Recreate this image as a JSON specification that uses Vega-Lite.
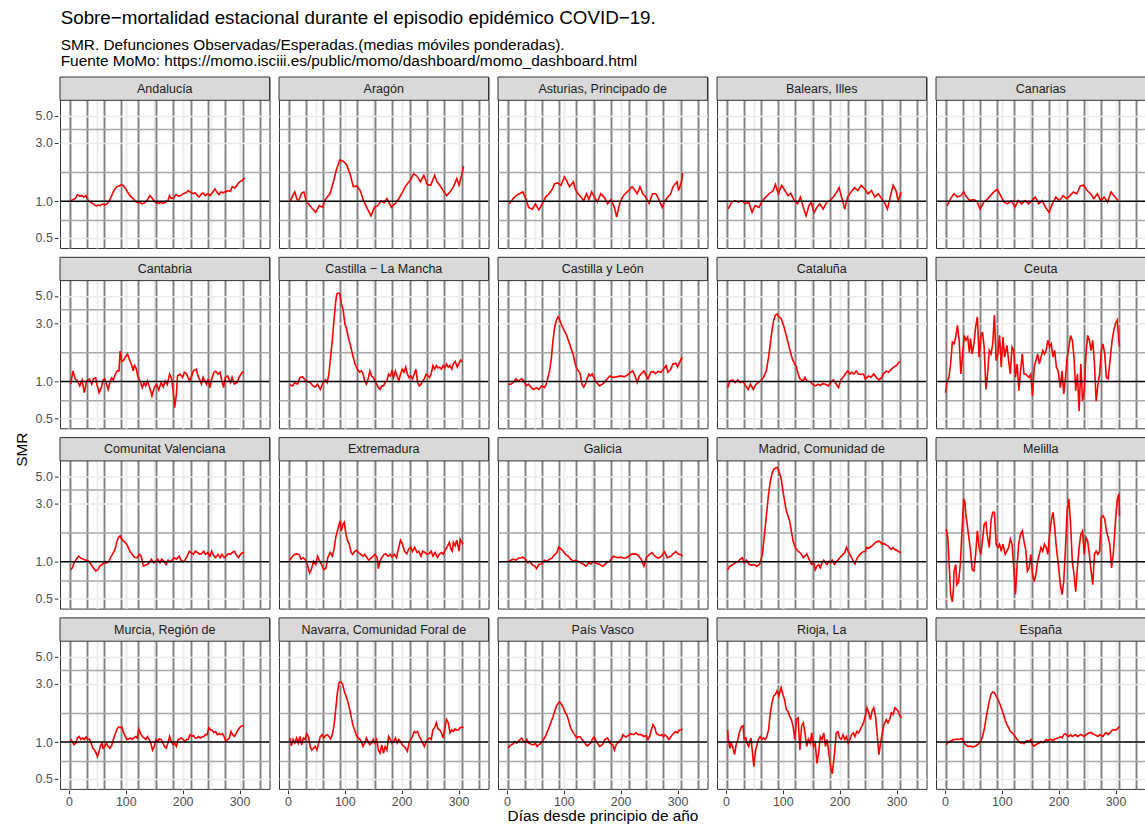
{
"$schema": "https://vega.github.io/schema/vega-lite/v6.json",
"background": "white",
"padding": {"left": 14, "top": 8, "right": 0, "bottom": 0},
"title": {"text": "Sobre−mortalidad estacional durante el episodio epidémico COVID−19.", "subtitle": ["SMR. Defunciones Observadas/Esperadas.(medias móviles ponderadas).", "Fuente MoMo: https://momo.isciii.es/public/momo/dashboard/momo_dashboard.html"], "anchor": "start", "dx": 46, "font": "Liberation Sans", "fontSize": 18.8, "fontWeight": "normal", "color": "black", "subtitleFont": "Liberation Sans", "subtitleFontSize": 15.4, "subtitleColor": "black", "subtitlePadding": 10, "subtitleLineHeight": 16, "offset": 6},
"datasets": {
"names": [{"c":"AN","n":"Andalucía"},{"c":"AR","n":"Aragón"},{"c":"AS","n":"Asturias, Principado de"},{"c":"IB","n":"Balears, Illes"},{"c":"CN","n":"Canarias"},{"c":"CB","n":"Cantabria"},{"c":"CM","n":"Castilla − La Mancha"},{"c":"CL","n":"Castilla y León"},{"c":"CT","n":"Cataluña"},{"c":"CE","n":"Ceuta"},{"c":"VC","n":"Comunitat Valenciana"},{"c":"EX","n":"Extremadura"},{"c":"GA","n":"Galicia"},{"c":"MD","n":"Madrid, Comunidad de"},{"c":"ML","n":"Melilla"},{"c":"MC","n":"Murcia, Región de"},{"c":"NC","n":"Navarra, Comunidad Foral de"},{"c":"PV","n":"País Vasco"},{"c":"RI","n":"Rioja, La"},{"c":"ES","n":"España"}],
"smr": [
{"r":"AN","d":2,"v":1.0},{"r":"AN","d":7,"v":1.03},{"r":"AN","d":11,"v":1.05},{"r":"AN","d":15,"v":1.13},{"r":"AN","d":19,"v":1.10},{"r":"AN","d":23,"v":1.11},{"r":"AN","d":26,"v":1.08},{"r":"AN","d":30,"v":1.11},{"r":"AN","d":34,"v":1.01},{"r":"AN","d":38,"v":0.98},{"r":"AN","d":43,"v":0.95},{"r":"AN","d":48,"v":0.91},{"r":"AN","d":52,"v":0.93},{"r":"AN","d":55,"v":0.92},{"r":"AN","d":59,"v":0.95},{"r":"AN","d":63,"v":0.93},{"r":"AN","d":67,"v":0.95},{"r":"AN","d":71,"v":1.01},{"r":"AN","d":75,"v":1.11},{"r":"AN","d":79,"v":1.22},{"r":"AN","d":84,"v":1.31},{"r":"AN","d":88,"v":1.33},{"r":"AN","d":92,"v":1.36},{"r":"AN","d":95,"v":1.35},{"r":"AN","d":100,"v":1.26},{"r":"AN","d":104,"v":1.17},{"r":"AN","d":108,"v":1.10},{"r":"AN","d":113,"v":1.05},{"r":"AN","d":117,"v":0.99},{"r":"AN","d":122,"v":0.97},{"r":"AN","d":124,"v":0.98},{"r":"AN","d":129,"v":0.95},{"r":"AN","d":133,"v":0.97},{"r":"AN","d":137,"v":1.01},{"r":"AN","d":142,"v":1.11},{"r":"AN","d":145,"v":1.08},{"r":"AN","d":148,"v":1.03},{"r":"AN","d":151,"v":0.99},{"r":"AN","d":153,"v":0.97},{"r":"AN","d":158,"v":0.96},{"r":"AN","d":162,"v":0.98},{"r":"AN","d":165,"v":0.96},{"r":"AN","d":170,"v":0.98},{"r":"AN","d":174,"v":1.01},{"r":"AN","d":177,"v":1.11},{"r":"AN","d":180,"v":1.05},{"r":"AN","d":184,"v":1.06},{"r":"AN","d":188,"v":1.13},{"r":"AN","d":193,"v":1.10},{"r":"AN","d":197,"v":1.11},{"r":"AN","d":201,"v":1.15},{"r":"AN","d":206,"v":1.17},{"r":"AN","d":210,"v":1.22},{"r":"AN","d":215,"v":1.17},{"r":"AN","d":219,"v":1.15},{"r":"AN","d":222,"v":1.17},{"r":"AN","d":226,"v":1.11},{"r":"AN","d":229,"v":1.08},{"r":"AN","d":232,"v":1.13},{"r":"AN","d":236,"v":1.17},{"r":"AN","d":240,"v":1.11},{"r":"AN","d":244,"v":1.15},{"r":"AN","d":248,"v":1.11},{"r":"AN","d":252,"v":1.17},{"r":"AN","d":257,"v":1.26},{"r":"AN","d":261,"v":1.17},{"r":"AN","d":264,"v":1.13},{"r":"AN","d":267,"v":1.19},{"r":"AN","d":271,"v":1.17},{"r":"AN","d":276,"v":1.20},{"r":"AN","d":280,"v":1.22},{"r":"AN","d":284,"v":1.20},{"r":"AN","d":287,"v":1.31},{"r":"AN","d":292,"v":1.28},{"r":"AN","d":296,"v":1.36},{"r":"AN","d":300,"v":1.44},{"r":"AN","d":305,"v":1.48},{"r":"AN","d":308,"v":1.53},{"r":"AN","d":309,"v":1.55},
{"r":"AR","d":4,"v":1.0},{"r":"AR","d":9,"v":1.12},{"r":"AR","d":12,"v":1.19},{"r":"AR","d":16,"v":1.03},{"r":"AR","d":19,"v":1.01},{"r":"AR","d":24,"v":1.16},{"r":"AR","d":28,"v":1.19},{"r":"AR","d":32,"v":1.0},{"r":"AR","d":36,"v":0.95},{"r":"AR","d":42,"v":0.88},{"r":"AR","d":49,"v":0.81},{"r":"AR","d":55,"v":0.92},{"r":"AR","d":61,"v":0.89},{"r":"AR","d":65,"v":1.02},{"r":"AR","d":69,"v":1.08},{"r":"AR","d":74,"v":1.15},{"r":"AR","d":79,"v":1.39},{"r":"AR","d":85,"v":1.79},{"r":"AR","d":91,"v":2.17},{"r":"AR","d":97,"v":2.12},{"r":"AR","d":103,"v":2.0},{"r":"AR","d":109,"v":1.68},{"r":"AR","d":115,"v":1.31},{"r":"AR","d":121,"v":1.33},{"r":"AR","d":127,"v":1.22},{"r":"AR","d":133,"v":1.01},{"r":"AR","d":140,"v":0.86},{"r":"AR","d":146,"v":0.76},{"r":"AR","d":152,"v":0.89},{"r":"AR","d":158,"v":0.92},{"r":"AR","d":164,"v":1.01},{"r":"AR","d":169,"v":0.97},{"r":"AR","d":174,"v":1.05},{"r":"AR","d":182,"v":0.89},{"r":"AR","d":188,"v":0.95},{"r":"AR","d":194,"v":1.03},{"r":"AR","d":200,"v":1.15},{"r":"AR","d":206,"v":1.31},{"r":"AR","d":215,"v":1.48},{"r":"AR","d":221,"v":1.68},{"r":"AR","d":227,"v":1.60},{"r":"AR","d":233,"v":1.44},{"r":"AR","d":239,"v":1.63},{"r":"AR","d":245,"v":1.37},{"r":"AR","d":251,"v":1.35},{"r":"AR","d":258,"v":1.63},{"r":"AR","d":262,"v":1.45},{"r":"AR","d":267,"v":1.35},{"r":"AR","d":273,"v":1.22},{"r":"AR","d":279,"v":1.11},{"r":"AR","d":285,"v":1.19},{"r":"AR","d":291,"v":1.31},{"r":"AR","d":297,"v":1.53},{"r":"AR","d":301,"v":1.35},{"r":"AR","d":306,"v":1.68},{"r":"AR","d":309,"v":1.93},
{"r":"AS","d":4,"v":0.95},{"r":"AS","d":11,"v":1.05},{"r":"AS","d":16,"v":1.11},{"r":"AS","d":22,"v":1.15},{"r":"AS","d":28,"v":1.19},{"r":"AS","d":33,"v":1.05},{"r":"AS","d":38,"v":0.89},{"r":"AS","d":45,"v":0.86},{"r":"AS","d":50,"v":0.95},{"r":"AS","d":56,"v":0.85},{"r":"AS","d":62,"v":0.95},{"r":"AS","d":68,"v":1.08},{"r":"AS","d":74,"v":1.15},{"r":"AS","d":80,"v":1.26},{"r":"AS","d":84,"v":1.39},{"r":"AS","d":89,"v":1.41},{"r":"AS","d":95,"v":1.35},{"r":"AS","d":101,"v":1.58},{"r":"AS","d":106,"v":1.44},{"r":"AS","d":110,"v":1.31},{"r":"AS","d":117,"v":1.44},{"r":"AS","d":120,"v":1.26},{"r":"AS","d":125,"v":1.15},{"r":"AS","d":130,"v":1.08},{"r":"AS","d":135,"v":1.01},{"r":"AS","d":140,"v":1.15},{"r":"AS","d":144,"v":1.03},{"r":"AS","d":149,"v":1.19},{"r":"AS","d":154,"v":1.08},{"r":"AS","d":159,"v":0.98},{"r":"AS","d":165,"v":1.15},{"r":"AS","d":171,"v":1.08},{"r":"AS","d":177,"v":0.95},{"r":"AS","d":183,"v":1.03},{"r":"AS","d":189,"v":0.89},{"r":"AS","d":193,"v":0.74},{"r":"AS","d":198,"v":0.95},{"r":"AS","d":203,"v":1.08},{"r":"AS","d":208,"v":1.15},{"r":"AS","d":214,"v":1.22},{"r":"AS","d":220,"v":1.31},{"r":"AS","d":226,"v":1.21},{"r":"AS","d":229,"v":1.15},{"r":"AS","d":234,"v":1.31},{"r":"AS","d":239,"v":1.15},{"r":"AS","d":244,"v":1.08},{"r":"AS","d":250,"v":0.96},{"r":"AS","d":256,"v":1.15},{"r":"AS","d":262,"v":1.15},{"r":"AS","d":268,"v":1.01},{"r":"AS","d":273,"v":0.89},{"r":"AS","d":278,"v":1.01},{"r":"AS","d":283,"v":1.08},{"r":"AS","d":288,"v":1.15},{"r":"AS","d":292,"v":1.31},{"r":"AS","d":299,"v":1.44},{"r":"AS","d":302,"v":1.22},{"r":"AS","d":307,"v":1.44},{"r":"AS","d":309,"v":1.70},
{"r":"IB","d":4,"v":0.86},{"r":"IB","d":10,"v":0.98},{"r":"IB","d":16,"v":1.01},{"r":"IB","d":22,"v":0.98},{"r":"IB","d":28,"v":1.01},{"r":"IB","d":34,"v":0.95},{"r":"IB","d":40,"v":0.98},{"r":"IB","d":46,"v":0.81},{"r":"IB","d":51,"v":0.92},{"r":"IB","d":58,"v":0.89},{"r":"IB","d":64,"v":1.01},{"r":"IB","d":70,"v":1.08},{"r":"IB","d":76,"v":1.15},{"r":"IB","d":83,"v":1.22},{"r":"IB","d":87,"v":1.37},{"r":"IB","d":92,"v":1.15},{"r":"IB","d":98,"v":1.35},{"r":"IB","d":104,"v":1.22},{"r":"IB","d":109,"v":1.11},{"r":"IB","d":114,"v":1.16},{"r":"IB","d":120,"v":1.01},{"r":"IB","d":126,"v":0.95},{"r":"IB","d":131,"v":1.08},{"r":"IB","d":136,"v":0.89},{"r":"IB","d":141,"v":0.76},{"r":"IB","d":146,"v":0.92},{"r":"IB","d":150,"v":0.98},{"r":"IB","d":155,"v":0.81},{"r":"IB","d":160,"v":0.89},{"r":"IB","d":165,"v":0.95},{"r":"IB","d":171,"v":0.86},{"r":"IB","d":177,"v":0.98},{"r":"IB","d":183,"v":1.01},{"r":"IB","d":189,"v":1.08},{"r":"IB","d":195,"v":1.19},{"r":"IB","d":199,"v":1.29},{"r":"IB","d":204,"v":1.05},{"r":"IB","d":209,"v":0.86},{"r":"IB","d":214,"v":1.08},{"r":"IB","d":220,"v":1.19},{"r":"IB","d":226,"v":1.29},{"r":"IB","d":232,"v":1.22},{"r":"IB","d":238,"v":1.35},{"r":"IB","d":244,"v":1.26},{"r":"IB","d":250,"v":1.15},{"r":"IB","d":256,"v":1.22},{"r":"IB","d":262,"v":1.08},{"r":"IB","d":268,"v":1.15},{"r":"IB","d":274,"v":1.05},{"r":"IB","d":280,"v":0.95},{"r":"IB","d":284,"v":0.86},{"r":"IB","d":289,"v":1.08},{"r":"IB","d":294,"v":1.35},{"r":"IB","d":299,"v":1.22},{"r":"IB","d":303,"v":1.01},{"r":"IB","d":308,"v":1.19},
{"r":"CN","d":4,"v":0.92},{"r":"CN","d":10,"v":1.05},{"r":"CN","d":16,"v":1.15},{"r":"CN","d":22,"v":1.08},{"r":"CN","d":28,"v":1.11},{"r":"CN","d":33,"v":1.19},{"r":"CN","d":38,"v":1.08},{"r":"CN","d":44,"v":1.01},{"r":"CN","d":50,"v":1.03},{"r":"CN","d":56,"v":1.0},{"r":"CN","d":62,"v":0.86},{"r":"CN","d":68,"v":0.98},{"r":"CN","d":74,"v":1.03},{"r":"CN","d":80,"v":1.11},{"r":"CN","d":86,"v":1.19},{"r":"CN","d":92,"v":1.25},{"r":"CN","d":98,"v":1.11},{"r":"CN","d":104,"v":0.98},{"r":"CN","d":110,"v":0.95},{"r":"CN","d":117,"v":1.01},{"r":"CN","d":123,"v":0.89},{"r":"CN","d":129,"v":1.01},{"r":"CN","d":135,"v":0.95},{"r":"CN","d":141,"v":1.01},{"r":"CN","d":147,"v":0.95},{"r":"CN","d":153,"v":1.01},{"r":"CN","d":159,"v":1.08},{"r":"CN","d":165,"v":0.95},{"r":"CN","d":171,"v":1.01},{"r":"CN","d":177,"v":0.89},{"r":"CN","d":183,"v":0.81},{"r":"CN","d":189,"v":0.95},{"r":"CN","d":195,"v":1.08},{"r":"CN","d":201,"v":1.01},{"r":"CN","d":208,"v":1.11},{"r":"CN","d":214,"v":1.05},{"r":"CN","d":220,"v":1.11},{"r":"CN","d":226,"v":1.19},{"r":"CN","d":232,"v":1.15},{"r":"CN","d":238,"v":1.33},{"r":"CN","d":244,"v":1.35},{"r":"CN","d":250,"v":1.22},{"r":"CN","d":256,"v":1.15},{"r":"CN","d":262,"v":1.05},{"r":"CN","d":268,"v":1.15},{"r":"CN","d":274,"v":1.01},{"r":"CN","d":280,"v":1.08},{"r":"CN","d":286,"v":0.98},{"r":"CN","d":292,"v":1.19},{"r":"CN","d":299,"v":1.08},{"r":"CN","d":305,"v":1.01},
{"r":"CB","d":3,"v":0.95},{"r":"CB","d":7,"v":1.22},{"r":"CB","d":11,"v":1.05},{"r":"CB","d":15,"v":1.01},{"r":"CB","d":19,"v":0.92},{"r":"CB","d":23,"v":1.03},{"r":"CB","d":27,"v":0.81},{"r":"CB","d":31,"v":1.01},{"r":"CB","d":36,"v":1.05},{"r":"CB","d":40,"v":0.95},{"r":"CB","d":43,"v":1.05},{"r":"CB","d":47,"v":1.07},{"r":"CB","d":49,"v":0.95},{"r":"CB","d":53,"v":0.81},{"r":"CB","d":57,"v":0.89},{"r":"CB","d":60,"v":1.03},{"r":"CB","d":63,"v":1.05},{"r":"CB","d":66,"v":0.95},{"r":"CB","d":69,"v":0.86},{"r":"CB","d":72,"v":0.98},{"r":"CB","d":75,"v":1.07},{"r":"CB","d":78,"v":1.03},{"r":"CB","d":82,"v":1.16},{"r":"CB","d":85,"v":1.22},{"r":"CB","d":88,"v":1.22},{"r":"CB","d":90,"v":1.77},{"r":"CB","d":93,"v":1.46},{"r":"CB","d":96,"v":1.48},{"r":"CB","d":99,"v":1.58},{"r":"CB","d":103,"v":1.68},{"r":"CB","d":107,"v":1.48},{"r":"CB","d":110,"v":1.37},{"r":"CB","d":113,"v":1.22},{"r":"CB","d":115,"v":1.35},{"r":"CB","d":118,"v":1.29},{"r":"CB","d":121,"v":1.11},{"r":"CB","d":125,"v":1.01},{"r":"CB","d":129,"v":0.89},{"r":"CB","d":132,"v":0.98},{"r":"CB","d":135,"v":0.92},{"r":"CB","d":138,"v":1.01},{"r":"CB","d":143,"v":0.86},{"r":"CB","d":146,"v":0.76},{"r":"CB","d":150,"v":0.89},{"r":"CB","d":154,"v":0.95},{"r":"CB","d":158,"v":0.85},{"r":"CB","d":162,"v":0.98},{"r":"CB","d":166,"v":0.90},{"r":"CB","d":169,"v":1.01},{"r":"CB","d":173,"v":0.94},{"r":"CB","d":177,"v":1.15},{"r":"CB","d":180,"v":1.08},{"r":"CB","d":183,"v":0.86},{"r":"CB","d":186,"v":0.61},{"r":"CB","d":189,"v":0.79},{"r":"CB","d":191,"v":1.11},{"r":"CB","d":195,"v":1.15},{"r":"CB","d":200,"v":1.08},{"r":"CB","d":203,"v":1.19},{"r":"CB","d":207,"v":1.15},{"r":"CB","d":212,"v":1.01},{"r":"CB","d":215,"v":1.08},{"r":"CB","d":219,"v":1.22},{"r":"CB","d":224,"v":1.26},{"r":"CB","d":227,"v":1.11},{"r":"CB","d":230,"v":1.03},{"r":"CB","d":233,"v":0.95},{"r":"CB","d":236,"v":1.08},{"r":"CB","d":239,"v":1.01},{"r":"CB","d":242,"v":0.95},{"r":"CB","d":245,"v":1.05},{"r":"CB","d":248,"v":0.89},{"r":"CB","d":251,"v":1.05},{"r":"CB","d":255,"v":1.19},{"r":"CB","d":258,"v":1.21},{"r":"CB","d":262,"v":1.15},{"r":"CB","d":266,"v":1.19},{"r":"CB","d":269,"v":1.01},{"r":"CB","d":272,"v":0.89},{"r":"CB","d":275,"v":1.08},{"r":"CB","d":279,"v":1.11},{"r":"CB","d":284,"v":0.98},{"r":"CB","d":287,"v":1.08},{"r":"CB","d":291,"v":0.95},{"r":"CB","d":296,"v":0.98},{"r":"CB","d":299,"v":1.08},{"r":"CB","d":303,"v":1.15},{"r":"CB","d":306,"v":1.21},
{"r":"CM","d":3,"v":0.94},{"r":"CM","d":8,"v":0.92},{"r":"CM","d":12,"v":0.98},{"r":"CM","d":17,"v":0.95},{"r":"CM","d":21,"v":1.08},{"r":"CM","d":26,"v":1.09},{"r":"CM","d":30,"v":1.03},{"r":"CM","d":34,"v":1.0},{"r":"CM","d":39,"v":0.98},{"r":"CM","d":44,"v":0.92},{"r":"CM","d":48,"v":0.90},{"r":"CM","d":52,"v":0.95},{"r":"CM","d":57,"v":0.86},{"r":"CM","d":62,"v":0.98},{"r":"CM","d":66,"v":1.03},{"r":"CM","d":69,"v":0.98},{"r":"CM","d":72,"v":1.15},{"r":"CM","d":75,"v":1.58},{"r":"CM","d":78,"v":2.17},{"r":"CM","d":81,"v":3.17},{"r":"CM","d":84,"v":4.50},{"r":"CM","d":86,"v":5.20},{"r":"CM","d":88,"v":5.27},{"r":"CM","d":91,"v":5.27},{"r":"CM","d":94,"v":4.35},{"r":"CM","d":97,"v":3.84},{"r":"CM","d":100,"v":2.98},{"r":"CM","d":103,"v":2.71},{"r":"CM","d":106,"v":2.31},{"r":"CM","d":110,"v":1.97},{"r":"CM","d":114,"v":1.63},{"r":"CM","d":118,"v":1.39},{"r":"CM","d":122,"v":1.26},{"r":"CM","d":126,"v":1.19},{"r":"CM","d":129,"v":1.22},{"r":"CM","d":132,"v":1.16},{"r":"CM","d":135,"v":1.01},{"r":"CM","d":138,"v":0.95},{"r":"CM","d":141,"v":1.05},{"r":"CM","d":144,"v":1.22},{"r":"CM","d":147,"v":1.11},{"r":"CM","d":150,"v":1.08},{"r":"CM","d":153,"v":1.01},{"r":"CM","d":156,"v":0.95},{"r":"CM","d":159,"v":0.89},{"r":"CM","d":162,"v":0.86},{"r":"CM","d":165,"v":0.92},{"r":"CM","d":168,"v":0.92},{"r":"CM","d":171,"v":0.98},{"r":"CM","d":174,"v":1.01},{"r":"CM","d":177,"v":1.15},{"r":"CM","d":180,"v":1.11},{"r":"CM","d":183,"v":1.22},{"r":"CM","d":186,"v":1.08},{"r":"CM","d":189,"v":1.22},{"r":"CM","d":192,"v":1.11},{"r":"CM","d":195,"v":1.01},{"r":"CM","d":198,"v":1.15},{"r":"CM","d":201,"v":1.26},{"r":"CM","d":204,"v":1.19},{"r":"CM","d":207,"v":1.31},{"r":"CM","d":210,"v":1.15},{"r":"CM","d":213,"v":1.08},{"r":"CM","d":216,"v":1.11},{"r":"CM","d":219,"v":1.05},{"r":"CM","d":222,"v":1.15},{"r":"CM","d":225,"v":1.26},{"r":"CM","d":228,"v":0.98},{"r":"CM","d":231,"v":0.92},{"r":"CM","d":234,"v":0.95},{"r":"CM","d":237,"v":1.01},{"r":"CM","d":240,"v":1.05},{"r":"CM","d":243,"v":1.15},{"r":"CM","d":246,"v":1.11},{"r":"CM","d":249,"v":1.08},{"r":"CM","d":252,"v":1.16},{"r":"CM","d":255,"v":1.35},{"r":"CM","d":258,"v":1.26},{"r":"CM","d":261,"v":1.35},{"r":"CM","d":264,"v":1.29},{"r":"CM","d":267,"v":1.31},{"r":"CM","d":270,"v":1.26},{"r":"CM","d":273,"v":1.35},{"r":"CM","d":276,"v":1.29},{"r":"CM","d":279,"v":1.39},{"r":"CM","d":282,"v":1.31},{"r":"CM","d":285,"v":1.35},{"r":"CM","d":288,"v":1.26},{"r":"CM","d":291,"v":1.39},{"r":"CM","d":294,"v":1.46},{"r":"CM","d":298,"v":1.31},{"r":"CM","d":301,"v":1.41},{"r":"CM","d":304,"v":1.50},{"r":"CM","d":306,"v":1.44},
{"r":"CL","d":2,"v":0.95},{"r":"CL","d":7,"v":0.95},{"r":"CL","d":11,"v":0.98},{"r":"CL","d":16,"v":1.05},{"r":"CL","d":20,"v":1.0},{"r":"CL","d":23,"v":1.03},{"r":"CL","d":26,"v":1.05},{"r":"CL","d":31,"v":0.98},{"r":"CL","d":34,"v":0.92},{"r":"CL","d":38,"v":0.95},{"r":"CL","d":43,"v":0.89},{"r":"CL","d":47,"v":0.86},{"r":"CL","d":52,"v":0.89},{"r":"CL","d":56,"v":0.86},{"r":"CL","d":61,"v":0.92},{"r":"CL","d":66,"v":0.89},{"r":"CL","d":69,"v":0.95},{"r":"CL","d":72,"v":1.08},{"r":"CL","d":75,"v":1.22},{"r":"CL","d":78,"v":1.53},{"r":"CL","d":81,"v":2.17},{"r":"CL","d":84,"v":2.79},{"r":"CL","d":87,"v":3.17},{"r":"CL","d":90,"v":3.38},{"r":"CL","d":93,"v":3.17},{"r":"CL","d":96,"v":2.90},{"r":"CL","d":99,"v":2.71},{"r":"CL","d":102,"v":2.54},{"r":"CL","d":105,"v":2.38},{"r":"CL","d":108,"v":2.17},{"r":"CL","d":111,"v":1.97},{"r":"CL","d":114,"v":1.79},{"r":"CL","d":117,"v":1.63},{"r":"CL","d":120,"v":1.39},{"r":"CL","d":123,"v":1.26},{"r":"CL","d":126,"v":1.22},{"r":"CL","d":129,"v":1.15},{"r":"CL","d":132,"v":0.95},{"r":"CL","d":135,"v":0.90},{"r":"CL","d":138,"v":0.95},{"r":"CL","d":141,"v":1.05},{"r":"CL","d":144,"v":1.15},{"r":"CL","d":147,"v":1.11},{"r":"CL","d":150,"v":1.15},{"r":"CL","d":156,"v":1.0},{"r":"CL","d":163,"v":0.92},{"r":"CL","d":169,"v":0.96},{"r":"CL","d":175,"v":1.03},{"r":"CL","d":181,"v":1.11},{"r":"CL","d":187,"v":1.08},{"r":"CL","d":193,"v":1.09},{"r":"CL","d":200,"v":1.11},{"r":"CL","d":206,"v":1.09},{"r":"CL","d":212,"v":1.13},{"r":"CL","d":218,"v":1.19},{"r":"CL","d":221,"v":1.22},{"r":"CL","d":224,"v":1.15},{"r":"CL","d":229,"v":0.98},{"r":"CL","d":233,"v":1.11},{"r":"CL","d":236,"v":1.15},{"r":"CL","d":241,"v":1.22},{"r":"CL","d":245,"v":1.11},{"r":"CL","d":248,"v":1.05},{"r":"CL","d":253,"v":1.19},{"r":"CL","d":257,"v":1.21},{"r":"CL","d":261,"v":1.16},{"r":"CL","d":266,"v":1.21},{"r":"CL","d":271,"v":1.19},{"r":"CL","d":275,"v":1.26},{"r":"CL","d":280,"v":1.35},{"r":"CL","d":283,"v":1.19},{"r":"CL","d":288,"v":1.26},{"r":"CL","d":292,"v":1.39},{"r":"CL","d":297,"v":1.41},{"r":"CL","d":300,"v":1.31},{"r":"CL","d":304,"v":1.44},{"r":"CL","d":308,"v":1.58},
{"r":"CT","d":3,"v":0.89},{"r":"CT","d":7,"v":1.01},{"r":"CT","d":12,"v":1.03},{"r":"CT","d":16,"v":0.98},{"r":"CT","d":21,"v":1.03},{"r":"CT","d":25,"v":0.98},{"r":"CT","d":30,"v":1.0},{"r":"CT","d":35,"v":0.92},{"r":"CT","d":39,"v":0.86},{"r":"CT","d":43,"v":0.95},{"r":"CT","d":48,"v":0.86},{"r":"CT","d":53,"v":0.95},{"r":"CT","d":57,"v":0.98},{"r":"CT","d":61,"v":1.01},{"r":"CT","d":66,"v":1.08},{"r":"CT","d":71,"v":1.22},{"r":"CT","d":75,"v":1.58},{"r":"CT","d":78,"v":2.03},{"r":"CT","d":81,"v":2.62},{"r":"CT","d":84,"v":3.17},{"r":"CT","d":87,"v":3.49},{"r":"CT","d":90,"v":3.56},{"r":"CT","d":93,"v":3.38},{"r":"CT","d":97,"v":3.27},{"r":"CT","d":100,"v":2.98},{"r":"CT","d":103,"v":2.71},{"r":"CT","d":106,"v":2.38},{"r":"CT","d":109,"v":2.10},{"r":"CT","d":112,"v":1.85},{"r":"CT","d":115,"v":1.63},{"r":"CT","d":118,"v":1.48},{"r":"CT","d":121,"v":1.39},{"r":"CT","d":124,"v":1.31},{"r":"CT","d":127,"v":1.15},{"r":"CT","d":130,"v":1.05},{"r":"CT","d":133,"v":1.03},{"r":"CT","d":136,"v":1.01},{"r":"CT","d":139,"v":1.08},{"r":"CT","d":142,"v":1.01},{"r":"CT","d":145,"v":1.0},{"r":"CT","d":148,"v":1.0},{"r":"CT","d":152,"v":0.95},{"r":"CT","d":157,"v":0.92},{"r":"CT","d":162,"v":0.95},{"r":"CT","d":166,"v":0.93},{"r":"CT","d":170,"v":0.96},{"r":"CT","d":175,"v":0.95},{"r":"CT","d":180,"v":0.92},{"r":"CT","d":184,"v":0.98},{"r":"CT","d":189,"v":1.03},{"r":"CT","d":194,"v":0.95},{"r":"CT","d":198,"v":0.89},{"r":"CT","d":202,"v":1.03},{"r":"CT","d":206,"v":1.08},{"r":"CT","d":210,"v":1.15},{"r":"CT","d":214,"v":1.22},{"r":"CT","d":218,"v":1.15},{"r":"CT","d":221,"v":1.19},{"r":"CT","d":225,"v":1.15},{"r":"CT","d":229,"v":1.22},{"r":"CT","d":233,"v":1.15},{"r":"CT","d":237,"v":1.14},{"r":"CT","d":242,"v":1.15},{"r":"CT","d":245,"v":1.05},{"r":"CT","d":248,"v":1.08},{"r":"CT","d":251,"v":1.11},{"r":"CT","d":255,"v":1.08},{"r":"CT","d":260,"v":1.15},{"r":"CT","d":265,"v":1.07},{"r":"CT","d":269,"v":1.03},{"r":"CT","d":274,"v":1.08},{"r":"CT","d":277,"v":1.15},{"r":"CT","d":282,"v":1.22},{"r":"CT","d":286,"v":1.19},{"r":"CT","d":291,"v":1.26},{"r":"CT","d":295,"v":1.31},{"r":"CT","d":300,"v":1.35},{"r":"CT","d":304,"v":1.44},{"r":"CT","d":307,"v":1.46},
{"r":"CE","d":1,"v":0.81},{"r":"CE","d":4,"v":1.01},{"r":"CE","d":7,"v":1.08},{"r":"CE","d":10,"v":1.39},{"r":"CE","d":13,"v":2.10},{"r":"CE","d":16,"v":2.03},{"r":"CE","d":19,"v":2.31},{"r":"CE","d":22,"v":2.88},{"r":"CE","d":25,"v":2.17},{"r":"CE","d":28,"v":1.15},{"r":"CE","d":31,"v":1.68},{"r":"CE","d":34,"v":2.38},{"r":"CE","d":37,"v":2.17},{"r":"CE","d":40,"v":2.31},{"r":"CE","d":43,"v":1.72},{"r":"CE","d":45,"v":2.24},{"r":"CE","d":48,"v":1.68},{"r":"CE","d":51,"v":2.03},{"r":"CE","d":54,"v":2.79},{"r":"CE","d":57,"v":3.38},{"r":"CE","d":60,"v":1.58},{"r":"CE","d":63,"v":2.31},{"r":"CE","d":66,"v":2.54},{"r":"CE","d":69,"v":1.91},{"r":"CE","d":72,"v":0.86},{"r":"CE","d":75,"v":1.15},{"r":"CE","d":78,"v":1.79},{"r":"CE","d":81,"v":1.68},{"r":"CE","d":84,"v":2.03},{"r":"CE","d":87,"v":3.49},{"r":"CE","d":90,"v":1.48},{"r":"CE","d":93,"v":1.68},{"r":"CE","d":96,"v":2.38},{"r":"CE","d":99,"v":1.31},{"r":"CE","d":102,"v":2.31},{"r":"CE","d":105,"v":1.58},{"r":"CE","d":109,"v":1.97},{"r":"CE","d":112,"v":1.48},{"r":"CE","d":115,"v":1.15},{"r":"CE","d":118,"v":1.91},{"r":"CE","d":121,"v":1.79},{"r":"CE","d":124,"v":1.08},{"r":"CE","d":127,"v":1.39},{"r":"CE","d":130,"v":0.84},{"r":"CE","d":133,"v":1.22},{"r":"CE","d":136,"v":1.68},{"r":"CE","d":139,"v":1.15},{"r":"CE","d":142,"v":1.15},{"r":"CE","d":145,"v":1.11},{"r":"CE","d":148,"v":1.08},{"r":"CE","d":151,"v":1.15},{"r":"CE","d":154,"v":0.76},{"r":"CE","d":157,"v":1.31},{"r":"CE","d":160,"v":1.48},{"r":"CE","d":163,"v":1.68},{"r":"CE","d":166,"v":1.39},{"r":"CE","d":169,"v":1.58},{"r":"CE","d":172,"v":1.79},{"r":"CE","d":175,"v":1.68},{"r":"CE","d":178,"v":1.79},{"r":"CE","d":181,"v":2.17},{"r":"CE","d":184,"v":1.91},{"r":"CE","d":187,"v":2.03},{"r":"CE","d":190,"v":1.58},{"r":"CE","d":193,"v":1.79},{"r":"CE","d":196,"v":1.31},{"r":"CE","d":199,"v":1.22},{"r":"CE","d":203,"v":0.89},{"r":"CE","d":206,"v":1.22},{"r":"CE","d":209,"v":0.79},{"r":"CE","d":212,"v":1.08},{"r":"CE","d":215,"v":1.58},{"r":"CE","d":218,"v":1.91},{"r":"CE","d":221,"v":2.38},{"r":"CE","d":224,"v":2.17},{"r":"CE","d":227,"v":1.58},{"r":"CE","d":230,"v":0.84},{"r":"CE","d":233,"v":1.15},{"r":"CE","d":236,"v":0.57},{"r":"CE","d":239,"v":1.39},{"r":"CE","d":242,"v":0.69},{"r":"CE","d":245,"v":0.84},{"r":"CE","d":248,"v":1.68},{"r":"CE","d":251,"v":2.38},{"r":"CE","d":254,"v":2.17},{"r":"CE","d":257,"v":1.79},{"r":"CE","d":260,"v":2.17},{"r":"CE","d":263,"v":1.39},{"r":"CE","d":266,"v":0.69},{"r":"CE","d":269,"v":0.94},{"r":"CE","d":272,"v":1.15},{"r":"CE","d":275,"v":1.79},{"r":"CE","d":278,"v":2.03},{"r":"CE","d":281,"v":1.68},{"r":"CE","d":284,"v":1.08},{"r":"CE","d":287,"v":1.05},{"r":"CE","d":291,"v":1.58},{"r":"CE","d":294,"v":2.17},{"r":"CE","d":297,"v":2.62},{"r":"CE","d":300,"v":2.98},{"r":"CE","d":303,"v":3.17},{"r":"CE","d":306,"v":2.17},{"r":"CE","d":307,"v":1.91},
{"r":"VC","d":3,"v":0.86},{"r":"VC","d":6,"v":0.89},{"r":"VC","d":9,"v":0.98},{"r":"VC","d":13,"v":1.05},{"r":"VC","d":17,"v":1.11},{"r":"VC","d":21,"v":1.07},{"r":"VC","d":25,"v":1.05},{"r":"VC","d":30,"v":1.03},{"r":"VC","d":35,"v":1.01},{"r":"VC","d":39,"v":0.95},{"r":"VC","d":43,"v":0.89},{"r":"VC","d":47,"v":0.84},{"r":"VC","d":51,"v":0.86},{"r":"VC","d":54,"v":0.92},{"r":"VC","d":58,"v":0.95},{"r":"VC","d":62,"v":0.98},{"r":"VC","d":66,"v":0.98},{"r":"VC","d":70,"v":1.0},{"r":"VC","d":73,"v":1.08},{"r":"VC","d":77,"v":1.16},{"r":"VC","d":81,"v":1.26},{"r":"VC","d":84,"v":1.44},{"r":"VC","d":87,"v":1.58},{"r":"VC","d":90,"v":1.63},{"r":"VC","d":93,"v":1.53},{"r":"VC","d":96,"v":1.48},{"r":"VC","d":99,"v":1.44},{"r":"VC","d":103,"v":1.35},{"r":"VC","d":107,"v":1.22},{"r":"VC","d":111,"v":1.15},{"r":"VC","d":115,"v":1.09},{"r":"VC","d":120,"v":1.08},{"r":"VC","d":124,"v":1.15},{"r":"VC","d":127,"v":1.11},{"r":"VC","d":131,"v":0.92},{"r":"VC","d":135,"v":0.94},{"r":"VC","d":138,"v":0.95},{"r":"VC","d":142,"v":1.0},{"r":"VC","d":145,"v":1.05},{"r":"VC","d":149,"v":0.98},{"r":"VC","d":153,"v":1.01},{"r":"VC","d":156,"v":1.05},{"r":"VC","d":160,"v":0.98},{"r":"VC","d":163,"v":1.05},{"r":"VC","d":167,"v":1.01},{"r":"VC","d":171,"v":0.95},{"r":"VC","d":174,"v":1.03},{"r":"VC","d":178,"v":1.0},{"r":"VC","d":181,"v":1.03},{"r":"VC","d":185,"v":1.08},{"r":"VC","d":189,"v":1.05},{"r":"VC","d":194,"v":1.11},{"r":"VC","d":197,"v":1.03},{"r":"VC","d":201,"v":1.0},{"r":"VC","d":204,"v":1.03},{"r":"VC","d":208,"v":1.11},{"r":"VC","d":212,"v":1.22},{"r":"VC","d":215,"v":1.19},{"r":"VC","d":219,"v":1.15},{"r":"VC","d":222,"v":1.22},{"r":"VC","d":226,"v":1.19},{"r":"VC","d":230,"v":1.15},{"r":"VC","d":233,"v":1.16},{"r":"VC","d":237,"v":1.22},{"r":"VC","d":240,"v":1.15},{"r":"VC","d":244,"v":1.19},{"r":"VC","d":248,"v":1.11},{"r":"VC","d":251,"v":1.22},{"r":"VC","d":255,"v":1.11},{"r":"VC","d":258,"v":1.08},{"r":"VC","d":262,"v":1.15},{"r":"VC","d":266,"v":1.08},{"r":"VC","d":269,"v":1.15},{"r":"VC","d":273,"v":1.08},{"r":"VC","d":276,"v":1.11},{"r":"VC","d":280,"v":1.16},{"r":"VC","d":284,"v":1.15},{"r":"VC","d":287,"v":1.19},{"r":"VC","d":291,"v":1.22},{"r":"VC","d":294,"v":1.15},{"r":"VC","d":298,"v":1.08},{"r":"VC","d":302,"v":1.15},{"r":"VC","d":305,"v":1.19},{"r":"VC","d":308,"v":1.18},
{"r":"EX","d":3,"v":1.03},{"r":"EX","d":8,"v":1.11},{"r":"EX","d":12,"v":1.15},{"r":"EX","d":16,"v":1.16},{"r":"EX","d":20,"v":1.14},{"r":"EX","d":23,"v":1.05},{"r":"EX","d":27,"v":1.08},{"r":"EX","d":31,"v":1.03},{"r":"EX","d":34,"v":0.95},{"r":"EX","d":38,"v":0.81},{"r":"EX","d":41,"v":0.86},{"r":"EX","d":45,"v":1.01},{"r":"EX","d":49,"v":0.95},{"r":"EX","d":52,"v":1.11},{"r":"EX","d":56,"v":1.01},{"r":"EX","d":59,"v":0.95},{"r":"EX","d":63,"v":0.86},{"r":"EX","d":67,"v":0.89},{"r":"EX","d":70,"v":1.08},{"r":"EX","d":74,"v":1.19},{"r":"EX","d":78,"v":1.11},{"r":"EX","d":81,"v":1.26},{"r":"EX","d":84,"v":1.58},{"r":"EX","d":87,"v":1.79},{"r":"EX","d":90,"v":2.03},{"r":"EX","d":92,"v":2.17},{"r":"EX","d":94,"v":1.79},{"r":"EX","d":97,"v":2.03},{"r":"EX","d":99,"v":2.10},{"r":"EX","d":102,"v":1.68},{"r":"EX","d":105,"v":1.48},{"r":"EX","d":108,"v":1.39},{"r":"EX","d":111,"v":1.19},{"r":"EX","d":114,"v":1.15},{"r":"EX","d":117,"v":1.21},{"r":"EX","d":121,"v":1.24},{"r":"EX","d":124,"v":1.19},{"r":"EX","d":128,"v":1.15},{"r":"EX","d":132,"v":1.11},{"r":"EX","d":135,"v":1.15},{"r":"EX","d":139,"v":1.08},{"r":"EX","d":142,"v":1.03},{"r":"EX","d":146,"v":1.07},{"r":"EX","d":150,"v":1.11},{"r":"EX","d":153,"v":1.15},{"r":"EX","d":157,"v":1.08},{"r":"EX","d":159,"v":0.88},{"r":"EX","d":162,"v":1.01},{"r":"EX","d":165,"v":1.08},{"r":"EX","d":169,"v":1.15},{"r":"EX","d":172,"v":1.16},{"r":"EX","d":176,"v":1.11},{"r":"EX","d":180,"v":1.15},{"r":"EX","d":183,"v":1.09},{"r":"EX","d":187,"v":1.15},{"r":"EX","d":191,"v":1.08},{"r":"EX","d":194,"v":1.26},{"r":"EX","d":198,"v":1.50},{"r":"EX","d":201,"v":1.41},{"r":"EX","d":205,"v":1.22},{"r":"EX","d":209,"v":1.16},{"r":"EX","d":212,"v":1.26},{"r":"EX","d":216,"v":1.32},{"r":"EX","d":219,"v":1.21},{"r":"EX","d":223,"v":1.31},{"r":"EX","d":227,"v":1.19},{"r":"EX","d":230,"v":1.22},{"r":"EX","d":234,"v":1.11},{"r":"EX","d":237,"v":1.22},{"r":"EX","d":241,"v":1.19},{"r":"EX","d":245,"v":1.15},{"r":"EX","d":248,"v":1.16},{"r":"EX","d":252,"v":1.22},{"r":"EX","d":255,"v":1.11},{"r":"EX","d":259,"v":1.19},{"r":"EX","d":263,"v":1.08},{"r":"EX","d":266,"v":1.15},{"r":"EX","d":270,"v":1.19},{"r":"EX","d":273,"v":1.15},{"r":"EX","d":277,"v":1.26},{"r":"EX","d":281,"v":1.35},{"r":"EX","d":284,"v":1.44},{"r":"EX","d":287,"v":1.26},{"r":"EX","d":289,"v":1.22},{"r":"EX","d":291,"v":1.44},{"r":"EX","d":294,"v":1.35},{"r":"EX","d":297,"v":1.50},{"r":"EX","d":301,"v":1.22},{"r":"EX","d":303,"v":1.53},{"r":"EX","d":306,"v":1.44},{"r":"EX","d":308,"v":1.39},
{"r":"GA","d":2,"v":1.0},{"r":"GA","d":7,"v":1.03},{"r":"GA","d":11,"v":1.05},{"r":"GA","d":16,"v":1.03},{"r":"GA","d":20,"v":1.07},{"r":"GA","d":25,"v":1.08},{"r":"GA","d":28,"v":1.09},{"r":"GA","d":32,"v":1.05},{"r":"GA","d":37,"v":0.98},{"r":"GA","d":40,"v":1.01},{"r":"GA","d":44,"v":0.95},{"r":"GA","d":49,"v":0.92},{"r":"GA","d":52,"v":0.88},{"r":"GA","d":56,"v":0.95},{"r":"GA","d":61,"v":0.96},{"r":"GA","d":66,"v":1.03},{"r":"GA","d":70,"v":1.01},{"r":"GA","d":75,"v":1.05},{"r":"GA","d":79,"v":1.07},{"r":"GA","d":84,"v":1.15},{"r":"GA","d":88,"v":1.19},{"r":"GA","d":91,"v":1.32},{"r":"GA","d":94,"v":1.29},{"r":"GA","d":99,"v":1.22},{"r":"GA","d":103,"v":1.15},{"r":"GA","d":108,"v":1.11},{"r":"GA","d":112,"v":1.05},{"r":"GA","d":117,"v":1.01},{"r":"GA","d":121,"v":1.03},{"r":"GA","d":126,"v":1.0},{"r":"GA","d":130,"v":0.98},{"r":"GA","d":135,"v":0.95},{"r":"GA","d":139,"v":0.92},{"r":"GA","d":144,"v":0.98},{"r":"GA","d":148,"v":0.96},{"r":"GA","d":152,"v":1.01},{"r":"GA","d":157,"v":0.97},{"r":"GA","d":163,"v":0.95},{"r":"GA","d":169,"v":0.92},{"r":"GA","d":175,"v":0.98},{"r":"GA","d":181,"v":1.01},{"r":"GA","d":187,"v":1.11},{"r":"GA","d":194,"v":1.08},{"r":"GA","d":200,"v":1.09},{"r":"GA","d":206,"v":1.07},{"r":"GA","d":212,"v":1.09},{"r":"GA","d":218,"v":1.15},{"r":"GA","d":224,"v":1.16},{"r":"GA","d":230,"v":1.14},{"r":"GA","d":236,"v":1.05},{"r":"GA","d":241,"v":0.92},{"r":"GA","d":245,"v":1.08},{"r":"GA","d":251,"v":1.15},{"r":"GA","d":255,"v":1.19},{"r":"GA","d":260,"v":1.11},{"r":"GA","d":266,"v":1.07},{"r":"GA","d":272,"v":1.11},{"r":"GA","d":277,"v":1.21},{"r":"GA","d":282,"v":1.08},{"r":"GA","d":288,"v":1.11},{"r":"GA","d":292,"v":1.16},{"r":"GA","d":297,"v":1.21},{"r":"GA","d":302,"v":1.15},{"r":"GA","d":306,"v":1.14},{"r":"GA","d":309,"v":1.11},
{"r":"MD","d":3,"v":0.86},{"r":"MD","d":7,"v":0.92},{"r":"MD","d":12,"v":0.95},{"r":"MD","d":16,"v":0.98},{"r":"MD","d":21,"v":1.0},{"r":"MD","d":25,"v":1.05},{"r":"MD","d":29,"v":1.08},{"r":"MD","d":32,"v":0.98},{"r":"MD","d":36,"v":1.03},{"r":"MD","d":41,"v":0.95},{"r":"MD","d":45,"v":0.94},{"r":"MD","d":49,"v":0.95},{"r":"MD","d":54,"v":0.92},{"r":"MD","d":59,"v":0.95},{"r":"MD","d":61,"v":1.01},{"r":"MD","d":64,"v":1.15},{"r":"MD","d":66,"v":1.39},{"r":"MD","d":69,"v":1.91},{"r":"MD","d":72,"v":2.62},{"r":"MD","d":75,"v":3.60},{"r":"MD","d":78,"v":4.50},{"r":"MD","d":81,"v":5.27},{"r":"MD","d":84,"v":5.70},{"r":"MD","d":87,"v":5.85},{"r":"MD","d":90,"v":5.90},{"r":"MD","d":93,"v":5.55},{"r":"MD","d":97,"v":4.79},{"r":"MD","d":100,"v":3.84},{"r":"MD","d":103,"v":3.17},{"r":"MD","d":106,"v":2.62},{"r":"MD","d":109,"v":2.38},{"r":"MD","d":112,"v":2.17},{"r":"MD","d":115,"v":1.79},{"r":"MD","d":118,"v":1.48},{"r":"MD","d":121,"v":1.35},{"r":"MD","d":124,"v":1.26},{"r":"MD","d":127,"v":1.22},{"r":"MD","d":130,"v":1.19},{"r":"MD","d":133,"v":1.15},{"r":"MD","d":136,"v":1.08},{"r":"MD","d":139,"v":1.11},{"r":"MD","d":142,"v":1.16},{"r":"MD","d":145,"v":1.08},{"r":"MD","d":148,"v":1.01},{"r":"MD","d":151,"v":0.95},{"r":"MD","d":154,"v":0.98},{"r":"MD","d":157,"v":0.86},{"r":"MD","d":160,"v":0.92},{"r":"MD","d":163,"v":0.95},{"r":"MD","d":166,"v":0.89},{"r":"MD","d":169,"v":0.98},{"r":"MD","d":172,"v":1.03},{"r":"MD","d":175,"v":0.98},{"r":"MD","d":178,"v":0.95},{"r":"MD","d":181,"v":1.01},{"r":"MD","d":184,"v":0.98},{"r":"MD","d":187,"v":1.03},{"r":"MD","d":191,"v":0.95},{"r":"MD","d":194,"v":1.0},{"r":"MD","d":197,"v":1.03},{"r":"MD","d":200,"v":1.08},{"r":"MD","d":203,"v":1.11},{"r":"MD","d":206,"v":1.15},{"r":"MD","d":209,"v":1.19},{"r":"MD","d":212,"v":1.31},{"r":"MD","d":215,"v":1.22},{"r":"MD","d":218,"v":1.15},{"r":"MD","d":221,"v":1.08},{"r":"MD","d":224,"v":1.01},{"r":"MD","d":227,"v":0.96},{"r":"MD","d":230,"v":1.05},{"r":"MD","d":233,"v":1.11},{"r":"MD","d":236,"v":1.15},{"r":"MD","d":239,"v":1.19},{"r":"MD","d":242,"v":1.21},{"r":"MD","d":245,"v":1.22},{"r":"MD","d":248,"v":1.31},{"r":"MD","d":251,"v":1.29},{"r":"MD","d":254,"v":1.32},{"r":"MD","d":257,"v":1.35},{"r":"MD","d":260,"v":1.39},{"r":"MD","d":263,"v":1.44},{"r":"MD","d":266,"v":1.46},{"r":"MD","d":269,"v":1.48},{"r":"MD","d":272,"v":1.44},{"r":"MD","d":275,"v":1.39},{"r":"MD","d":278,"v":1.41},{"r":"MD","d":282,"v":1.37},{"r":"MD","d":285,"v":1.35},{"r":"MD","d":288,"v":1.29},{"r":"MD","d":291,"v":1.26},{"r":"MD","d":294,"v":1.31},{"r":"MD","d":297,"v":1.26},{"r":"MD","d":300,"v":1.24},{"r":"MD","d":303,"v":1.22},{"r":"MD","d":306,"v":1.19},{"r":"MD","d":307,"v":1.21},
{"r":"ML","d":2,"v":1.85},{"r":"ML","d":5,"v":1.58},{"r":"ML","d":8,"v":0.84},{"r":"ML","d":10,"v":0.54},{"r":"ML","d":13,"v":0.47},{"r":"ML","d":15,"v":0.61},{"r":"ML","d":16,"v":0.84},{"r":"ML","d":19,"v":0.95},{"r":"ML","d":21,"v":0.65},{"r":"ML","d":24,"v":0.69},{"r":"ML","d":27,"v":0.95},{"r":"ML","d":30,"v":1.79},{"r":"ML","d":33,"v":3.27},{"r":"ML","d":35,"v":3.07},{"r":"ML","d":37,"v":2.38},{"r":"ML","d":39,"v":2.03},{"r":"ML","d":42,"v":1.58},{"r":"ML","d":45,"v":1.22},{"r":"ML","d":48,"v":0.86},{"r":"ML","d":51,"v":0.84},{"r":"ML","d":54,"v":1.15},{"r":"ML","d":57,"v":1.79},{"r":"ML","d":60,"v":1.31},{"r":"ML","d":63,"v":1.15},{"r":"ML","d":66,"v":1.48},{"r":"ML","d":69,"v":2.03},{"r":"ML","d":72,"v":2.10},{"r":"ML","d":75,"v":1.58},{"r":"ML","d":78,"v":1.31},{"r":"ML","d":81,"v":2.17},{"r":"ML","d":84,"v":2.54},{"r":"ML","d":87,"v":2.54},{"r":"ML","d":90,"v":1.39},{"r":"ML","d":93,"v":1.31},{"r":"ML","d":96,"v":1.39},{"r":"ML","d":99,"v":1.22},{"r":"ML","d":102,"v":1.39},{"r":"ML","d":106,"v":1.15},{"r":"ML","d":109,"v":1.22},{"r":"ML","d":112,"v":1.31},{"r":"ML","d":115,"v":1.53},{"r":"ML","d":118,"v":1.39},{"r":"ML","d":121,"v":0.89},{"r":"ML","d":124,"v":0.54},{"r":"ML","d":127,"v":0.95},{"r":"ML","d":130,"v":1.44},{"r":"ML","d":133,"v":1.68},{"r":"ML","d":136,"v":1.79},{"r":"ML","d":139,"v":1.48},{"r":"ML","d":142,"v":1.26},{"r":"ML","d":145,"v":0.84},{"r":"ML","d":148,"v":0.89},{"r":"ML","d":151,"v":1.15},{"r":"ML","d":154,"v":0.79},{"r":"ML","d":157,"v":0.69},{"r":"ML","d":160,"v":0.79},{"r":"ML","d":163,"v":1.01},{"r":"ML","d":166,"v":1.15},{"r":"ML","d":169,"v":1.31},{"r":"ML","d":172,"v":1.22},{"r":"ML","d":175,"v":1.39},{"r":"ML","d":178,"v":1.31},{"r":"ML","d":181,"v":1.15},{"r":"ML","d":184,"v":1.68},{"r":"ML","d":187,"v":2.17},{"r":"ML","d":190,"v":2.54},{"r":"ML","d":193,"v":1.91},{"r":"ML","d":196,"v":1.31},{"r":"ML","d":200,"v":0.89},{"r":"ML","d":203,"v":0.65},{"r":"ML","d":206,"v":0.54},{"r":"ML","d":209,"v":0.69},{"r":"ML","d":212,"v":1.31},{"r":"ML","d":215,"v":2.62},{"r":"ML","d":218,"v":3.27},{"r":"ML","d":221,"v":2.03},{"r":"ML","d":224,"v":1.01},{"r":"ML","d":227,"v":0.79},{"r":"ML","d":230,"v":0.57},{"r":"ML","d":233,"v":0.89},{"r":"ML","d":236,"v":1.31},{"r":"ML","d":239,"v":1.68},{"r":"ML","d":242,"v":1.79},{"r":"ML","d":245,"v":1.15},{"r":"ML","d":248,"v":1.58},{"r":"ML","d":251,"v":1.48},{"r":"ML","d":254,"v":1.15},{"r":"ML","d":257,"v":0.84},{"r":"ML","d":260,"v":0.65},{"r":"ML","d":263,"v":1.15},{"r":"ML","d":266,"v":1.22},{"r":"ML","d":269,"v":1.15},{"r":"ML","d":272,"v":1.22},{"r":"ML","d":275,"v":2.31},{"r":"ML","d":278,"v":2.38},{"r":"ML","d":281,"v":2.24},{"r":"ML","d":284,"v":1.79},{"r":"ML","d":287,"v":1.58},{"r":"ML","d":290,"v":1.39},{"r":"ML","d":293,"v":0.89},{"r":"ML","d":296,"v":1.15},{"r":"ML","d":300,"v":2.17},{"r":"ML","d":303,"v":3.17},{"r":"ML","d":306,"v":3.60},{"r":"ML","d":307,"v":2.38},
{"r":"MC","d":3,"v":1.06},{"r":"MC","d":6,"v":1.01},{"r":"MC","d":9,"v":0.95},{"r":"MC","d":12,"v":0.98},{"r":"MC","d":15,"v":1.08},{"r":"MC","d":18,"v":1.11},{"r":"MC","d":21,"v":1.05},{"r":"MC","d":24,"v":1.08},{"r":"MC","d":27,"v":1.05},{"r":"MC","d":30,"v":1.10},{"r":"MC","d":33,"v":1.05},{"r":"MC","d":36,"v":1.06},{"r":"MC","d":39,"v":0.98},{"r":"MC","d":42,"v":0.89},{"r":"MC","d":45,"v":0.86},{"r":"MC","d":48,"v":0.81},{"r":"MC","d":50,"v":0.76},{"r":"MC","d":53,"v":0.84},{"r":"MC","d":55,"v":0.92},{"r":"MC","d":58,"v":0.98},{"r":"MC","d":60,"v":0.89},{"r":"MC","d":63,"v":0.92},{"r":"MC","d":66,"v":0.98},{"r":"MC","d":69,"v":0.92},{"r":"MC","d":72,"v":0.89},{"r":"MC","d":75,"v":0.93},{"r":"MC","d":78,"v":1.05},{"r":"MC","d":81,"v":1.15},{"r":"MC","d":84,"v":1.26},{"r":"MC","d":87,"v":1.33},{"r":"MC","d":90,"v":1.31},{"r":"MC","d":93,"v":1.33},{"r":"MC","d":96,"v":1.20},{"r":"MC","d":99,"v":1.11},{"r":"MC","d":102,"v":1.05},{"r":"MC","d":105,"v":1.06},{"r":"MC","d":108,"v":1.08},{"r":"MC","d":111,"v":1.05},{"r":"MC","d":114,"v":1.08},{"r":"MC","d":117,"v":1.11},{"r":"MC","d":120,"v":1.08},{"r":"MC","d":123,"v":1.28},{"r":"MC","d":126,"v":1.17},{"r":"MC","d":129,"v":1.11},{"r":"MC","d":132,"v":1.08},{"r":"MC","d":135,"v":1.05},{"r":"MC","d":138,"v":1.11},{"r":"MC","d":141,"v":1.05},{"r":"MC","d":144,"v":0.98},{"r":"MC","d":147,"v":0.86},{"r":"MC","d":150,"v":0.92},{"r":"MC","d":153,"v":1.05},{"r":"MC","d":156,"v":1.01},{"r":"MC","d":159,"v":1.06},{"r":"MC","d":162,"v":1.05},{"r":"MC","d":165,"v":0.99},{"r":"MC","d":168,"v":0.92},{"r":"MC","d":171,"v":0.89},{"r":"MC","d":174,"v":0.98},{"r":"MC","d":177,"v":1.11},{"r":"MC","d":180,"v":1.01},{"r":"MC","d":183,"v":0.95},{"r":"MC","d":186,"v":0.98},{"r":"MC","d":189,"v":0.92},{"r":"MC","d":192,"v":1.05},{"r":"MC","d":195,"v":1.06},{"r":"MC","d":198,"v":1.08},{"r":"MC","d":201,"v":1.05},{"r":"MC","d":204,"v":1.01},{"r":"MC","d":207,"v":1.05},{"r":"MC","d":210,"v":1.06},{"r":"MC","d":213,"v":1.15},{"r":"MC","d":216,"v":1.11},{"r":"MC","d":219,"v":1.13},{"r":"MC","d":222,"v":1.08},{"r":"MC","d":225,"v":1.08},{"r":"MC","d":228,"v":1.11},{"r":"MC","d":231,"v":1.08},{"r":"MC","d":234,"v":1.10},{"r":"MC","d":237,"v":1.11},{"r":"MC","d":240,"v":1.15},{"r":"MC","d":243,"v":1.15},{"r":"MC","d":246,"v":1.31},{"r":"MC","d":249,"v":1.26},{"r":"MC","d":252,"v":1.25},{"r":"MC","d":255,"v":1.20},{"r":"MC","d":258,"v":1.22},{"r":"MC","d":261,"v":1.15},{"r":"MC","d":264,"v":1.17},{"r":"MC","d":267,"v":1.15},{"r":"MC","d":270,"v":1.17},{"r":"MC","d":273,"v":1.11},{"r":"MC","d":276,"v":1.01},{"r":"MC","d":279,"v":1.05},{"r":"MC","d":282,"v":1.08},{"r":"MC","d":285,"v":1.22},{"r":"MC","d":288,"v":1.15},{"r":"MC","d":291,"v":1.11},{"r":"MC","d":294,"v":1.17},{"r":"MC","d":297,"v":1.25},{"r":"MC","d":300,"v":1.31},{"r":"MC","d":303,"v":1.35},{"r":"MC","d":306,"v":1.36},{"r":"MC","d":308,"v":1.36},
{"r":"NC","d":3,"v":1.08},{"r":"NC","d":6,"v":0.93},{"r":"NC","d":9,"v":1.05},{"r":"NC","d":12,"v":0.98},{"r":"NC","d":15,"v":1.08},{"r":"NC","d":18,"v":0.98},{"r":"NC","d":21,"v":1.11},{"r":"NC","d":24,"v":0.95},{"r":"NC","d":27,"v":1.08},{"r":"NC","d":30,"v":1.05},{"r":"NC","d":33,"v":1.17},{"r":"NC","d":36,"v":1.11},{"r":"NC","d":39,"v":0.92},{"r":"NC","d":42,"v":0.86},{"r":"NC","d":45,"v":0.89},{"r":"NC","d":48,"v":0.92},{"r":"NC","d":51,"v":0.86},{"r":"NC","d":54,"v":0.98},{"r":"NC","d":57,"v":1.11},{"r":"NC","d":60,"v":1.15},{"r":"NC","d":63,"v":1.08},{"r":"NC","d":66,"v":1.13},{"r":"NC","d":69,"v":1.15},{"r":"NC","d":72,"v":1.11},{"r":"NC","d":75,"v":1.06},{"r":"NC","d":78,"v":1.15},{"r":"NC","d":81,"v":1.35},{"r":"NC","d":84,"v":1.85},{"r":"NC","d":87,"v":2.54},{"r":"NC","d":90,"v":3.07},{"r":"NC","d":93,"v":3.11},{"r":"NC","d":96,"v":2.97},{"r":"NC","d":99,"v":2.62},{"r":"NC","d":102,"v":2.38},{"r":"NC","d":105,"v":2.17},{"r":"NC","d":108,"v":1.91},{"r":"NC","d":111,"v":1.63},{"r":"NC","d":114,"v":1.39},{"r":"NC","d":117,"v":1.26},{"r":"NC","d":120,"v":1.15},{"r":"NC","d":123,"v":1.08},{"r":"NC","d":126,"v":1.06},{"r":"NC","d":129,"v":1.01},{"r":"NC","d":132,"v":0.92},{"r":"NC","d":135,"v":0.98},{"r":"NC","d":138,"v":1.08},{"r":"NC","d":141,"v":1.01},{"r":"NC","d":144,"v":0.95},{"r":"NC","d":147,"v":0.98},{"r":"NC","d":150,"v":1.05},{"r":"NC","d":153,"v":0.98},{"r":"NC","d":156,"v":1.05},{"r":"NC","d":159,"v":0.86},{"r":"NC","d":162,"v":0.81},{"r":"NC","d":165,"v":0.95},{"r":"NC","d":168,"v":0.81},{"r":"NC","d":171,"v":0.92},{"r":"NC","d":174,"v":0.86},{"r":"NC","d":177,"v":1.11},{"r":"NC","d":180,"v":1.05},{"r":"NC","d":183,"v":0.98},{"r":"NC","d":186,"v":1.01},{"r":"NC","d":189,"v":1.08},{"r":"NC","d":192,"v":0.98},{"r":"NC","d":195,"v":1.05},{"r":"NC","d":198,"v":1.01},{"r":"NC","d":201,"v":0.95},{"r":"NC","d":204,"v":0.92},{"r":"NC","d":207,"v":0.89},{"r":"NC","d":210,"v":0.84},{"r":"NC","d":213,"v":0.98},{"r":"NC","d":216,"v":1.05},{"r":"NC","d":219,"v":1.11},{"r":"NC","d":222,"v":1.22},{"r":"NC","d":225,"v":1.19},{"r":"NC","d":228,"v":1.22},{"r":"NC","d":231,"v":1.11},{"r":"NC","d":234,"v":1.05},{"r":"NC","d":237,"v":0.98},{"r":"NC","d":240,"v":0.92},{"r":"NC","d":243,"v":1.01},{"r":"NC","d":246,"v":1.05},{"r":"NC","d":249,"v":1.08},{"r":"NC","d":252,"v":1.05},{"r":"NC","d":255,"v":1.26},{"r":"NC","d":258,"v":1.31},{"r":"NC","d":261,"v":1.44},{"r":"NC","d":264,"v":1.28},{"r":"NC","d":267,"v":1.26},{"r":"NC","d":270,"v":1.19},{"r":"NC","d":273,"v":1.08},{"r":"NC","d":276,"v":1.31},{"r":"NC","d":279,"v":1.53},{"r":"NC","d":282,"v":1.44},{"r":"NC","d":285,"v":1.19},{"r":"NC","d":288,"v":1.26},{"r":"NC","d":291,"v":1.22},{"r":"NC","d":294,"v":1.28},{"r":"NC","d":297,"v":1.25},{"r":"NC","d":300,"v":1.26},{"r":"NC","d":303,"v":1.31},{"r":"NC","d":306,"v":1.33},{"r":"NC","d":309,"v":1.31},
{"r":"PV","d":2,"v":0.89},{"r":"PV","d":5,"v":0.93},{"r":"PV","d":8,"v":0.95},{"r":"PV","d":11,"v":0.97},{"r":"PV","d":14,"v":1.01},{"r":"PV","d":17,"v":0.98},{"r":"PV","d":20,"v":1.01},{"r":"PV","d":23,"v":1.05},{"r":"PV","d":26,"v":1.08},{"r":"PV","d":29,"v":1.01},{"r":"PV","d":32,"v":0.99},{"r":"PV","d":35,"v":1.05},{"r":"PV","d":38,"v":0.98},{"r":"PV","d":41,"v":0.97},{"r":"PV","d":44,"v":0.95},{"r":"PV","d":47,"v":0.95},{"r":"PV","d":50,"v":0.98},{"r":"PV","d":53,"v":0.92},{"r":"PV","d":56,"v":0.95},{"r":"PV","d":59,"v":0.97},{"r":"PV","d":62,"v":1.01},{"r":"PV","d":66,"v":1.08},{"r":"PV","d":69,"v":1.15},{"r":"PV","d":72,"v":1.25},{"r":"PV","d":75,"v":1.35},{"r":"PV","d":78,"v":1.48},{"r":"PV","d":81,"v":1.61},{"r":"PV","d":84,"v":1.79},{"r":"PV","d":87,"v":1.97},{"r":"PV","d":90,"v":2.07},{"r":"PV","d":93,"v":2.13},{"r":"PV","d":96,"v":2.03},{"r":"PV","d":99,"v":1.91},{"r":"PV","d":102,"v":1.76},{"r":"PV","d":105,"v":1.68},{"r":"PV","d":108,"v":1.53},{"r":"PV","d":111,"v":1.35},{"r":"PV","d":114,"v":1.25},{"r":"PV","d":117,"v":1.19},{"r":"PV","d":120,"v":1.13},{"r":"PV","d":123,"v":1.08},{"r":"PV","d":126,"v":1.11},{"r":"PV","d":129,"v":1.10},{"r":"PV","d":132,"v":1.05},{"r":"PV","d":135,"v":1.01},{"r":"PV","d":138,"v":0.97},{"r":"PV","d":141,"v":0.93},{"r":"PV","d":144,"v":0.95},{"r":"PV","d":147,"v":0.98},{"r":"PV","d":150,"v":1.05},{"r":"PV","d":153,"v":1.10},{"r":"PV","d":158,"v":1.0},{"r":"PV","d":163,"v":0.92},{"r":"PV","d":168,"v":0.95},{"r":"PV","d":172,"v":1.05},{"r":"PV","d":177,"v":1.08},{"r":"PV","d":181,"v":0.98},{"r":"PV","d":186,"v":0.95},{"r":"PV","d":189,"v":0.86},{"r":"PV","d":192,"v":0.95},{"r":"PV","d":197,"v":1.01},{"r":"PV","d":201,"v":1.05},{"r":"PV","d":204,"v":1.15},{"r":"PV","d":209,"v":1.10},{"r":"PV","d":213,"v":1.13},{"r":"PV","d":218,"v":1.17},{"r":"PV","d":223,"v":1.15},{"r":"PV","d":227,"v":1.19},{"r":"PV","d":231,"v":1.15},{"r":"PV","d":236,"v":1.15},{"r":"PV","d":241,"v":1.11},{"r":"PV","d":245,"v":1.13},{"r":"PV","d":248,"v":1.05},{"r":"PV","d":251,"v":1.11},{"r":"PV","d":254,"v":1.26},{"r":"PV","d":257,"v":1.39},{"r":"PV","d":260,"v":1.31},{"r":"PV","d":263,"v":1.17},{"r":"PV","d":266,"v":1.15},{"r":"PV","d":269,"v":1.13},{"r":"PV","d":272,"v":1.15},{"r":"PV","d":275,"v":1.10},{"r":"PV","d":278,"v":1.15},{"r":"PV","d":282,"v":1.10},{"r":"PV","d":285,"v":1.05},{"r":"PV","d":288,"v":1.10},{"r":"PV","d":291,"v":1.15},{"r":"PV","d":294,"v":1.19},{"r":"PV","d":297,"v":1.22},{"r":"PV","d":300,"v":1.19},{"r":"PV","d":303,"v":1.25},{"r":"PV","d":306,"v":1.26},{"r":"PV","d":309,"v":1.28},
{"r":"RI","d":3,"v":1.26},{"r":"RI","d":4,"v":1.05},{"r":"RI","d":7,"v":0.89},{"r":"RI","d":9,"v":0.98},{"r":"RI","d":12,"v":0.91},{"r":"RI","d":15,"v":0.79},{"r":"RI","d":18,"v":0.95},{"r":"RI","d":21,"v":1.05},{"r":"RI","d":24,"v":1.22},{"r":"RI","d":27,"v":1.33},{"r":"RI","d":30,"v":1.36},{"r":"RI","d":32,"v":1.05},{"r":"RI","d":35,"v":1.08},{"r":"RI","d":37,"v":0.98},{"r":"RI","d":40,"v":0.92},{"r":"RI","d":42,"v":1.01},{"r":"RI","d":44,"v":1.08},{"r":"RI","d":47,"v":0.79},{"r":"RI","d":49,"v":0.63},{"r":"RI","d":52,"v":0.86},{"r":"RI","d":54,"v":0.92},{"r":"RI","d":57,"v":1.05},{"r":"RI","d":60,"v":1.11},{"r":"RI","d":63,"v":1.05},{"r":"RI","d":66,"v":1.08},{"r":"RI","d":69,"v":1.05},{"r":"RI","d":72,"v":1.11},{"r":"RI","d":75,"v":1.26},{"r":"RI","d":78,"v":1.74},{"r":"RI","d":81,"v":2.10},{"r":"RI","d":84,"v":2.38},{"r":"RI","d":87,"v":2.46},{"r":"RI","d":90,"v":2.62},{"r":"RI","d":93,"v":2.38},{"r":"RI","d":97,"v":2.79},{"r":"RI","d":100,"v":2.46},{"r":"RI","d":103,"v":2.24},{"r":"RI","d":106,"v":1.85},{"r":"RI","d":109,"v":1.79},{"r":"RI","d":112,"v":1.63},{"r":"RI","d":115,"v":1.53},{"r":"RI","d":118,"v":1.35},{"r":"RI","d":121,"v":1.05},{"r":"RI","d":124,"v":1.53},{"r":"RI","d":127,"v":1.58},{"r":"RI","d":130,"v":0.86},{"r":"RI","d":133,"v":1.35},{"r":"RI","d":136,"v":1.44},{"r":"RI","d":139,"v":1.19},{"r":"RI","d":142,"v":0.92},{"r":"RI","d":145,"v":1.05},{"r":"RI","d":148,"v":0.98},{"r":"RI","d":151,"v":1.19},{"r":"RI","d":154,"v":0.92},{"r":"RI","d":157,"v":0.98},{"r":"RI","d":160,"v":0.67},{"r":"RI","d":163,"v":0.81},{"r":"RI","d":166,"v":1.11},{"r":"RI","d":169,"v":1.05},{"r":"RI","d":172,"v":1.19},{"r":"RI","d":175,"v":0.92},{"r":"RI","d":178,"v":1.05},{"r":"RI","d":181,"v":0.81},{"r":"RI","d":184,"v":0.63},{"r":"RI","d":187,"v":0.55},{"r":"RI","d":191,"v":0.81},{"r":"RI","d":194,"v":1.19},{"r":"RI","d":197,"v":1.22},{"r":"RI","d":200,"v":1.08},{"r":"RI","d":203,"v":1.05},{"r":"RI","d":206,"v":1.15},{"r":"RI","d":209,"v":1.05},{"r":"RI","d":212,"v":1.11},{"r":"RI","d":215,"v":0.98},{"r":"RI","d":218,"v":1.05},{"r":"RI","d":221,"v":1.15},{"r":"RI","d":224,"v":1.19},{"r":"RI","d":227,"v":1.11},{"r":"RI","d":230,"v":1.22},{"r":"RI","d":233,"v":1.19},{"r":"RI","d":236,"v":1.26},{"r":"RI","d":239,"v":1.35},{"r":"RI","d":242,"v":1.44},{"r":"RI","d":245,"v":1.63},{"r":"RI","d":248,"v":1.91},{"r":"RI","d":251,"v":1.74},{"r":"RI","d":254,"v":1.53},{"r":"RI","d":257,"v":1.79},{"r":"RI","d":260,"v":1.91},{"r":"RI","d":263,"v":1.63},{"r":"RI","d":266,"v":1.15},{"r":"RI","d":269,"v":0.79},{"r":"RI","d":272,"v":0.98},{"r":"RI","d":275,"v":1.19},{"r":"RI","d":278,"v":1.39},{"r":"RI","d":282,"v":1.53},{"r":"RI","d":285,"v":1.44},{"r":"RI","d":288,"v":1.53},{"r":"RI","d":291,"v":1.74},{"r":"RI","d":294,"v":1.68},{"r":"RI","d":297,"v":1.91},{"r":"RI","d":300,"v":1.85},{"r":"RI","d":303,"v":1.79},{"r":"RI","d":306,"v":1.63},{"r":"RI","d":309,"v":1.58},
{"r":"ES","d":2,"v":0.95},{"r":"ES","d":5,"v":0.99},{"r":"ES","d":8,"v":1.01},{"r":"ES","d":12,"v":1.03},{"r":"ES","d":15,"v":1.05},{"r":"ES","d":18,"v":1.05},{"r":"ES","d":21,"v":1.06},{"r":"ES","d":24,"v":1.05},{"r":"ES","d":27,"v":1.06},{"r":"ES","d":30,"v":1.07},{"r":"ES","d":33,"v":1.01},{"r":"ES","d":36,"v":0.95},{"r":"ES","d":39,"v":0.93},{"r":"ES","d":42,"v":0.92},{"r":"ES","d":45,"v":0.93},{"r":"ES","d":48,"v":0.91},{"r":"ES","d":51,"v":0.92},{"r":"ES","d":54,"v":0.93},{"r":"ES","d":57,"v":0.95},{"r":"ES","d":60,"v":0.98},{"r":"ES","d":63,"v":1.01},{"r":"ES","d":66,"v":1.11},{"r":"ES","d":69,"v":1.26},{"r":"ES","d":72,"v":1.53},{"r":"ES","d":75,"v":1.85},{"r":"ES","d":78,"v":2.17},{"r":"ES","d":81,"v":2.46},{"r":"ES","d":84,"v":2.57},{"r":"ES","d":87,"v":2.54},{"r":"ES","d":90,"v":2.38},{"r":"ES","d":93,"v":2.24},{"r":"ES","d":97,"v":2.03},{"r":"ES","d":100,"v":1.85},{"r":"ES","d":103,"v":1.68},{"r":"ES","d":106,"v":1.51},{"r":"ES","d":109,"v":1.39},{"r":"ES","d":112,"v":1.31},{"r":"ES","d":115,"v":1.22},{"r":"ES","d":118,"v":1.19},{"r":"ES","d":121,"v":1.15},{"r":"ES","d":124,"v":1.10},{"r":"ES","d":127,"v":1.05},{"r":"ES","d":130,"v":1.01},{"r":"ES","d":133,"v":0.98},{"r":"ES","d":136,"v":0.99},{"r":"ES","d":139,"v":0.97},{"r":"ES","d":142,"v":1.01},{"r":"ES","d":145,"v":1.03},{"r":"ES","d":148,"v":1.01},{"r":"ES","d":151,"v":1.05},{"r":"ES","d":154,"v":0.95},{"r":"ES","d":157,"v":0.93},{"r":"ES","d":160,"v":0.95},{"r":"ES","d":163,"v":0.97},{"r":"ES","d":166,"v":0.98},{"r":"ES","d":169,"v":1.01},{"r":"ES","d":172,"v":0.99},{"r":"ES","d":175,"v":1.01},{"r":"ES","d":178,"v":1.05},{"r":"ES","d":181,"v":1.03},{"r":"ES","d":184,"v":1.05},{"r":"ES","d":187,"v":1.05},{"r":"ES","d":190,"v":1.03},{"r":"ES","d":193,"v":1.06},{"r":"ES","d":196,"v":1.07},{"r":"ES","d":199,"v":1.08},{"r":"ES","d":203,"v":1.10},{"r":"ES","d":206,"v":1.08},{"r":"ES","d":209,"v":1.15},{"r":"ES","d":212,"v":1.17},{"r":"ES","d":215,"v":1.13},{"r":"ES","d":218,"v":1.11},{"r":"ES","d":221,"v":1.15},{"r":"ES","d":224,"v":1.11},{"r":"ES","d":227,"v":1.13},{"r":"ES","d":230,"v":1.15},{"r":"ES","d":233,"v":1.11},{"r":"ES","d":236,"v":1.13},{"r":"ES","d":239,"v":1.15},{"r":"ES","d":242,"v":1.13},{"r":"ES","d":245,"v":1.11},{"r":"ES","d":248,"v":1.15},{"r":"ES","d":251,"v":1.17},{"r":"ES","d":254,"v":1.19},{"r":"ES","d":257,"v":1.20},{"r":"ES","d":260,"v":1.17},{"r":"ES","d":263,"v":1.15},{"r":"ES","d":266,"v":1.13},{"r":"ES","d":269,"v":1.11},{"r":"ES","d":272,"v":1.15},{"r":"ES","d":275,"v":1.13},{"r":"ES","d":278,"v":1.11},{"r":"ES","d":281,"v":1.17},{"r":"ES","d":284,"v":1.19},{"r":"ES","d":287,"v":1.15},{"r":"ES","d":291,"v":1.20},{"r":"ES","d":294,"v":1.25},{"r":"ES","d":297,"v":1.26},{"r":"ES","d":300,"v":1.25},{"r":"ES","d":303,"v":1.28},{"r":"ES","d":306,"v":1.33},{"r":"ES","d":307,"v":1.35}
]},
"vconcat": [{
"data": {"name": "smr"},
"transform": [{"lookup": "r", "from": {"data": {"name": "names"}, "key": "c", "fields": ["n"]}}],
"title": {"text": "SMR", "orient": "left", "anchor": "middle", "font": "Liberation Sans", "fontSize": 15.4, "fontWeight": "normal", "color": "black", "offset": 5},
"facet": {"field": "r", "type": "nominal", "sort": ["AN","AR","AS","IB","CN","CB","CM","CL","CT","CE","VC","EX","GA","MD","ML","MC","NC","PV","RI","ES"], "title": "Días desde principio de año", "header": {"labels": false, "labelExpr": "''", "labelFontSize": 0.1, "labelPadding": 0, "titleOrient": "bottom", "titleFont": "Liberation Sans", "titleFontSize": 15.4, "titleFontWeight": "normal", "titleColor": "black", "titlePadding": 0}},
"columns": 5,
"spacing": {"row": 6.3, "column": 6},
"spec": {
"width": 209.5,
"height": 171,
"resolve": {"axis": {"x": "independent", "y": "independent"}},
"layer": [
{"mark": {"type": "line", "color": "#ff0000", "strokeWidth": 1.6},
 "encoding": {
  "x": {"field": "d", "type": "quantitative", "scale": {"domain": [-15.75, 352.75], "nice": false, "zero": false},
   "axis": {"title": null, "values": [0, 100, 200, 300], "tickCount": 20, "labelFlush": false, "labelOverlap": false, "domain": false, "grid": true, "gridColor": "#ebebeb", "gridWidth": 1.9, "ticks": true, "tickColor": "#333333", "tickSize": 3.7, "labelColor": "#4d4d4d", "labelFont": "Liberation Sans", "labelFontSize": 12.4, "labelPadding": 2}},
  "y": {"field": "v", "type": "quantitative", "scale": {"type": "log", "domain": [0.414, 10.36], "nice": false},
   "axis": {"title": null, "values": [0.5, 1, 3, 5], "tickCount": 20, "format": ".1f", "labelOverlap": false, "labelFlush": false, "domain": false, "grid": true, "gridColor": "#ebebeb", "gridWidth": 1.5, "ticks": true, "tickColor": "#333333", "tickSize": 3.7, "labelColor": "#4d4d4d", "labelFont": "Liberation Sans", "labelFontSize": 12.4, "labelPadding": 2}}
 }},
{"transform": [{"aggregate": [{"op": "count", "as": "k"}], "groupby": ["r", "n"]}],
 "mark": {"type": "rule", "color": "black", "strokeWidth": 1.5},
 "encoding": {"y": {"datum": 1, "axis": {"title": null, "values": [0.7071, 1.7321, 3.873], "tickCount": 20, "labels": false, "ticks": false, "domain": false, "grid": true, "gridColor": "#a8a8a8", "gridWidth": 1.5}}}},
{"transform": [{"aggregate": [{"op": "count", "as": "k"}], "groupby": ["r", "n"]}],
 "mark": {"type": "rect", "fill": "#d9d9d9", "stroke": "#333333", "strokeWidth": 1},
 "encoding": {"y": {"datum": 6.68, "axis": null}, "y2": {"datum": 10.36}}},
{"transform": [{"aggregate": [{"op": "count", "as": "k"}], "groupby": ["r", "n"]}],
 "mark": {"type": "text", "font": "Liberation Sans", "fontSize": 12.5, "color": "#1a1a1a", "baseline": "middle", "align": "center"},
 "encoding": {
  "x": {"datum": 168.5, "axis": {"title": null, "values": [1, 32, 50, 61, 92, 122, 150, 153, 183, 214, 245, 250, 275, 306, 336], "tickCount": 40, "labels": false, "ticks": false, "domain": false, "grid": true, "gridColor": {"condition": {"test": "datum.value % 50 !== 0", "value": "#7f7f7f"}, "value": "#ebebeb"}, "gridWidth": 1.9}},
  "y": {"datum": 8.3, "axis": null},
  "text": {"field": "n"}}}
]
}
}],
"config": {"view": {"stroke": "#333333", "strokeWidth": 1}, "font": "Liberation Sans", "concat": {"spacing": 0}, "headerFacet": {"labels": false}}
}
